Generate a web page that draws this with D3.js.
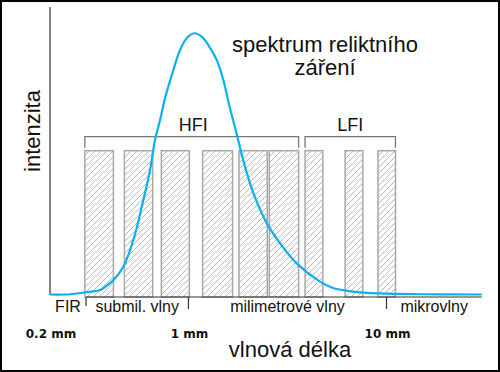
<!DOCTYPE html>
<html>
<head>
<meta charset="utf-8">
<script src="https://cdn.jsdelivr.net/npm/d3@7"></script>
<style>
  body { margin: 0; background: #fff; }
  text { font-family: "Liberation Sans", Arial, sans-serif; fill: #111; }
</style>
</head>
<body>
<div id="chart"></div>
<script>
// curve: wavelength (mm) and intensity (% of peak)
var curveLambda = [0.2, 0.252, 0.301, 0.358, 0.387, 0.418, 0.469, 0.527, 0.592, 0.640,
                   0.678, 0.719, 0.762, 0.839, 0.907, 0.980, 1.071, 1.167, 1.26, 1.39,
                   1.50, 1.62, 1.75, 1.89, 2.13, 2.49, 2.90, 3.52, 4.62, 5.37,
                   6.78, 9.27, 14.8, 30.3];
var curveValue  = [0, 0.1, 0.8, 1.7, 3.4, 5.5, 10.6, 20.8, 36.1, 47.6,
                   59.1, 66.7, 75.1, 85.8, 93.5, 98.0, 99.9, 98.6, 95.4, 89.7,
                   82.0, 71.3, 61.6, 51.4, 38.7, 27.2, 19.6, 11.9, 4.9, 2.5,
                   1.1, 0.4, 0.1, 0];

// Planck HFI and LFI bands: [from, to] in mm
var hfiFrom = [0.300, 0.475, 0.730, 1.18, 1.80, 2.56];
var hfiTo   = [0.418, 0.660, 1.01, 1.67, 2.50, 3.60];
var lfiFrom = [3.88, 6.18, 9.06];
var lfiTo   = [4.77, 7.59, 11.1];

// wavelength regions under the axis
var regionNames = ["FIR", "submil. vlny", "milimetrové vlny", "mikrovlny"];
var regionBounds = [0.2, 0.304, 1, 10, 30.3];

// tick labels
var tickValues = [0.2, 1, 10];
var tickLabels = ["0.2 mm", "1 mm", "10 mm"];

var width = 500, height = 372;

var svg = d3.select("#chart").append("svg")
    .attr("width", width)
    .attr("height", height);

// log wavelength scale
var x = d3.scaleLog()
    .domain([0.2, 10])
    .range([50, 386.5]);
var y = d3.scaleLinear()
    .domain([0, 100])
    .range([294.5, 33]);

var barTop = 150.7, barBottom = 297;

// hatch pattern for the bands
var defs = svg.append("defs");
defs.append("pattern")
    .attr("id", "hatch")
    .attr("patternUnits", "userSpaceOnUse")
    .attr("width", 6)
    .attr("height", 6)
    .append("path")
    .attr("d", "M-1,1 l2,-2 M0,6 l6,-6 M5,7 l2,-2")
    .attr("stroke", "#b0b0b0")
    .attr("stroke-width", 0.9);

// outer frame
svg.append("rect")
    .attr("x", 1).attr("y", 1)
    .attr("width", width - 2).attr("height", height - 2)
    .attr("fill", "none")
    .attr("stroke", "#000")
    .attr("stroke-width", 2);

// bands
var bands = [];
hfiFrom.forEach(function(d, i) { bands.push([d, hfiTo[i]]); });
lfiFrom.forEach(function(d, i) { bands.push([d, lfiTo[i]]); });

svg.selectAll("rect.band")
    .data(bands)
    .enter().append("rect")
    .attr("class", "band")
    .attr("x", function(d) { return x(d[0]); })
    .attr("y", barTop)
    .attr("width", function(d) { return x(d[1]) - x(d[0]); })
    .attr("height", barBottom - barTop)
    .attr("fill", "url(#hatch)")
    .attr("stroke", "#a8a8a8")
    .attr("stroke-width", 1.5);

// brackets over the groups
function bracket(lo, hi, label) {
  var x0 = x(lo), x1 = x(hi), top = 136.7, bot = 147.7;
  svg.append("path")
      .attr("d", "M" + x0 + "," + bot + "V" + top + "H" + x1 + "V" + bot)
      .attr("fill", "none")
      .attr("stroke", "#777")
      .attr("stroke-width", 1.3);
  svg.append("text")
      .attr("x", (x0 + x1) / 2 + (label == "HFI" ? 1.5 : 0))
      .attr("y", 131)
      .attr("text-anchor", "middle")
      .style("font-size", "18px")
      .text(label);
}
bracket(hfiFrom[0], hfiTo[hfiTo.length - 1], "HFI");
bracket(lfiFrom[0], lfiTo[lfiTo.length - 1], "LFI");

// y axis line
svg.append("line")
    .attr("x1", 50).attr("x2", 50)
    .attr("y1", 7).attr("y2", 295)
    .attr("stroke", "#333")
    .attr("stroke-width", 1.2);

// region line and ticks
svg.append("line")
    .attr("x1", x(regionBounds[1])).attr("x2", x(regionBounds[4]))
    .attr("y1", 297).attr("y2", 297)
    .attr("stroke", "#333")
    .attr("stroke-width", 1.2);

svg.selectAll("line.rtick")
    .data(regionBounds.slice(1, 4))
    .enter().append("line")
    .attr("class", "rtick")
    .attr("x1", function(d) { return x(d); })
    .attr("x2", function(d) { return x(d); })
    .attr("y1", 297)
    .attr("y2", function(d, i) { return i == 0 ? 306 : 309; })
    .attr("stroke", "#333")
    .attr("stroke-width", 1.2);

svg.selectAll("text.region")
    .data(regionNames)
    .enter().append("text")
    .attr("class", "region")
    .attr("x", function(d, i) { return (x(regionBounds[i]) + x(regionBounds[i + 1])) / 2; })
    .attr("y", 312)
    .attr("text-anchor", "middle")
    .style("font-size", "16px")
    .text(function(d) { return d; });

// spectrum curve
var pts = curveLambda.map(function(d, i) { return [d, curveValue[i]]; });
svg.append("path")
    .datum(pts)
    .attr("fill", "none")
    .attr("stroke", "#0cb0f0")
    .attr("stroke-width", 2.2)
    .attr("d", d3.line()
        .curve(d3.curveCatmullRom.alpha(0.5))
        .x(function(d) { return x(d[0]); })
        .y(function(d) { return y(d[1]); }));

// wavelength tick labels
svg.selectAll("text.tick")
    .data(tickValues)
    .enter().append("text")
    .attr("class", "tick")
    .attr("x", function(d) { return x(d) + 1; })
    .attr("y", 338)
    .attr("text-anchor", "middle")
    .style("font-family", "'DejaVu Sans', sans-serif")
    .style("font-weight", "bold")
    .style("font-size", "12px")
    .text(function(d, i) { return tickLabels[i]; });

// axis titles
svg.append("text")
    .attr("x", 290)
    .attr("y", 357)
    .attr("text-anchor", "middle")
    .style("font-size", "22px")
    .text("vlnová délka");

svg.append("text")
    .attr("transform", "translate(40,131) rotate(-90)")
    .attr("text-anchor", "middle")
    .style("font-size", "22px")
    .text("intenzita");

// title
svg.append("text")
    .attr("x", 325)
    .attr("y", 52)
    .attr("text-anchor", "middle")
    .style("font-size", "22px")
    .text("spektrum reliktního");
svg.append("text")
    .attr("x", 325)
    .attr("y", 75)
    .attr("text-anchor", "middle")
    .style("font-size", "22px")
    .text("záření");
</script>
</body>
</html>
